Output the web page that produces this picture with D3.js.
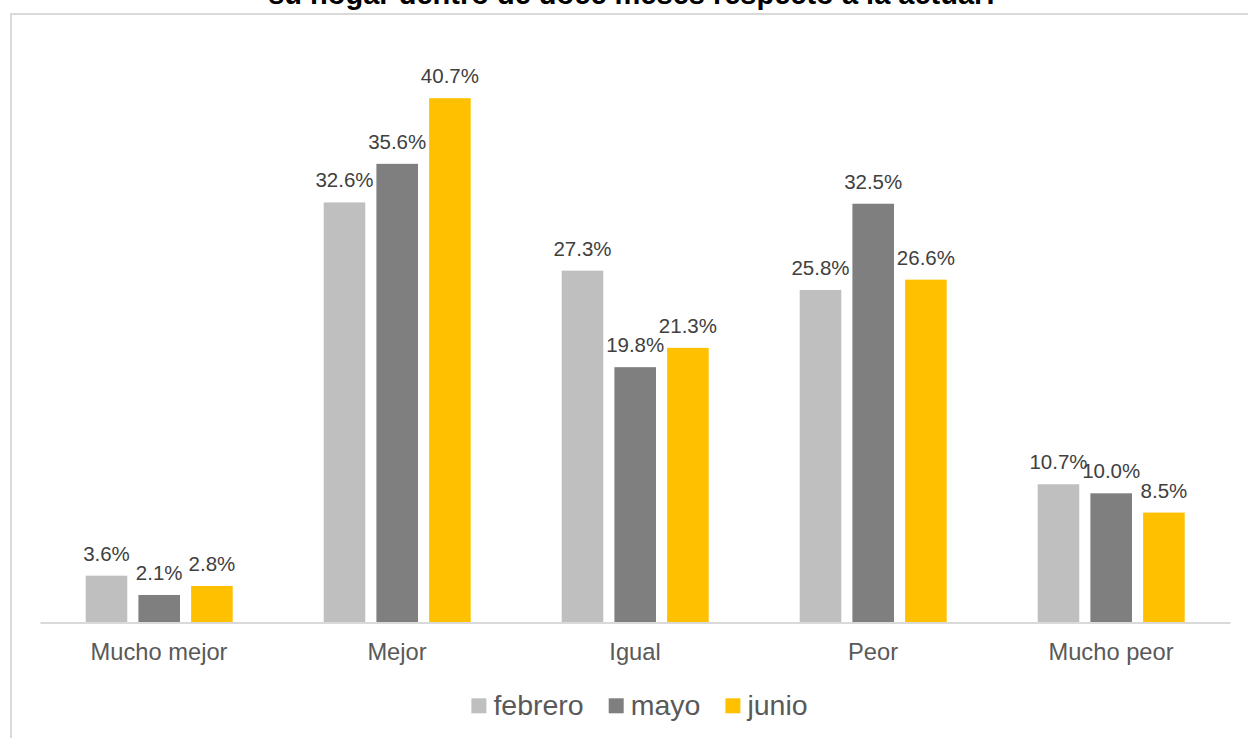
<!DOCTYPE html>
<html>
<head>
<meta charset="utf-8">
<script src="https://cdn.jsdelivr.net/npm/d3@7"></script>
<style>
  html, body { margin: 0; padding: 0; background: #fff; }
  svg { display: block; }
  text { font-family: "Liberation Sans", Arial, sans-serif; }
</style>
</head>
<body>
<svg id="chart" width="1248" height="738"></svg>
<script>
const titleText = "su hogar dentro de doce meses respecto a la actual?";
const categories = ["Mucho mejor", "Mejor", "Igual", "Peor", "Mucho peor"];
const seriesNames = ["febrero", "mayo", "junio"];
const febrero = [3.6, 32.6, 27.3, 25.8, 10.7];
const mayo = [2.1, 35.6, 19.8, 32.5, 10.0];
const junio = [2.8, 40.7, 21.3, 26.6, 8.5];
const seriesColors = ["#BFBFBF", "#7F7F7F", "#FFC000"];

const seriesValues = [febrero, mayo, junio];
const svg = d3.select("#chart");

svg.append("rect").attr("x", 0).attr("y", 0).attr("width", 1248).attr("height", 738).attr("fill", "#fff");

// chart area border
svg.append("rect")
  .attr("x", 11).attr("y", 14).attr("width", 1260).attr("height", 760)
  .attr("fill", "none").attr("stroke", "#D9D9D9").attr("stroke-width", 2);

// title (only its lower part is visible)
svg.append("text")
  .attr("x", 634).attr("y", 4)
  .attr("text-anchor", "middle")
  .attr("font-size", 29).attr("font-weight", "bold").attr("fill", "#000")
  .text(titleText);

const plotLeft = 40, plotRight = 1230, plotBottom = 622;
const x0 = d3.scaleBand().domain(categories).range([plotLeft, plotRight]);
const x1 = d3.scaleBand().domain(seriesNames).range([45.7, 192.7]).paddingInner(0.211);
const y = d3.scaleLinear().domain([0, 45]).range([plotBottom, plotBottom - 45 * 12.87]);

const groups = svg.append("g").selectAll("g")
  .data(categories)
  .join("g")
  .attr("transform", d => `translate(${x0(d)},0)`);

groups.selectAll("rect")
  .data((d, i) => seriesNames.map((s, k) => ({ s, v: seriesValues[k][i], c: seriesColors[k] })))
  .join("rect")
  .attr("x", d => x1(d.s))
  .attr("width", x1.bandwidth())
  .attr("y", d => y(d.v))
  .attr("height", d => y(0) - y(d.v))
  .attr("fill", d => d.c);

groups.selectAll("text.val")
  .data((d, i) => seriesNames.map((s, k) => ({ s, v: seriesValues[k][i] })))
  .join("text")
  .attr("class", "val")
  .attr("x", d => x1(d.s) + x1.bandwidth() / 2)
  .attr("y", d => y(d.v) - 15)
  .attr("text-anchor", "middle")
  .attr("font-size", 20.5)
  .attr("fill", "#404040")
  .text(d => d.v.toFixed(1) + "%");

// category axis
const axis = svg.append("g")
  .attr("transform", `translate(0,${plotBottom + 0.5})`)
  .call(d3.axisBottom(x0).tickSize(0).tickSizeOuter(0));
axis.select(".domain").attr("stroke", "#D9D9D9").attr("stroke-width", 2);
axis.selectAll(".tick text")
  .attr("y", 37).attr("dy", 0)
  .attr("font-size", 23.7)
  .attr("font-family", "\"Liberation Sans\", Arial, sans-serif")
  .attr("fill", "#595959");

// legend
const legend = svg.append("g");
const items = legend.selectAll("g").data(seriesNames).join("g");
items.append("rect")
  .attr("width", 15).attr("height", 15)
  .attr("y", 698.3)
  .attr("fill", (d, i) => seriesColors[i]);
items.append("text")
  .attr("y", 715)
  .attr("font-size", 28.5)
  .attr("fill", "#595959")
  .text(d => d);
let widths = [];
items.each(function () { widths.push(d3.select(this).select("text").node().getComputedTextLength()); });
const sq = 15, gapIn = 7, gapOut = 25;
const total = widths.reduce((a, w) => a + sq + gapIn + w, 0) + gapOut * (widths.length - 1);
let cx = 639.5 - total / 2;
items.each(function (d, i) {
  const g = d3.select(this);
  g.select("rect").attr("x", cx);
  g.select("text").attr("x", cx + sq + gapIn);
  cx += sq + gapIn + widths[i] + gapOut;
});
</script>
</body>
</html>
